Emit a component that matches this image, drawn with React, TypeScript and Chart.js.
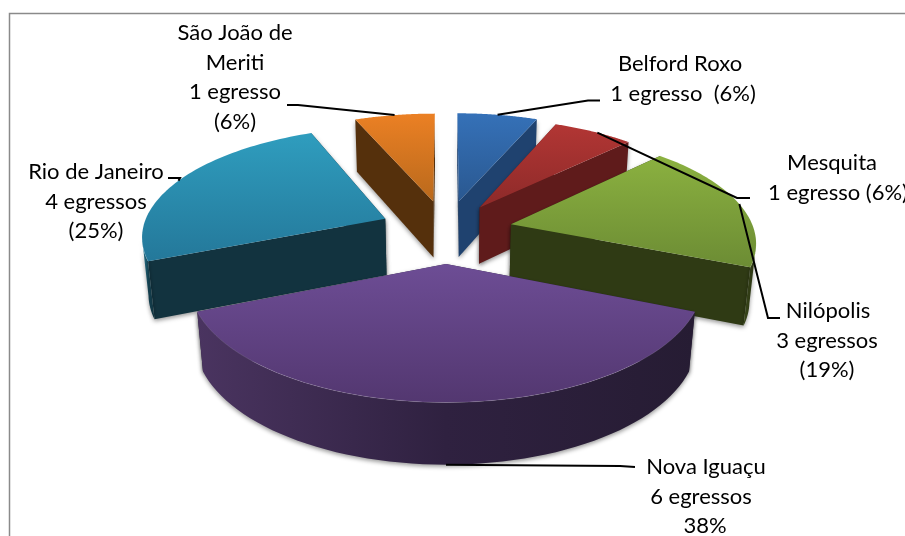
import React, { useEffect, useRef } from "react";
import { Chart, registerables } from "chart.js";

Chart.register(...registerables);

const categories = ["Belford Roxo", "Mesquita", "Nilópolis", "Nova Iguaçu", "Rio de Janeiro", "São João de Meriti"];
const egressos = [1, 1, 3, 6, 4, 1];
const explode = [66, 60, 64, 70, 64, 65];

const labelLines = [
  ["Belford Roxo", "1 egresso  (6%)"],
  ["Mesquita", "1 egresso (6%)"],
  ["Nilópolis", "3 egressos", "(19%)"],
  ["Nova Iguaçu", "6 egressos", "38%"],
  ["Rio de Janeiro", "4 egressos", "(25%)"],
  ["São João de", "Meriti", "1 egresso", "(6%)"],
];

const topLight = ["#3571b8", "#b23634", "#8bb140", "#6d4d95", "#2f9dbe", "#eb8024"];
const topDark = ["#2a5890", "#8d2a29", "#6c8c34", "#533770", "#24789a", "#b9691c"];
const faceColor = ["#1f426f", "#5f1b1b", "#2f3a14", "#2e2044", "#12333f", "#55300c"];
const rimLeft = ["#24497a", "#6a1f1f", "#39471a", "#4a3460", "#2a7f9a", "#5f340e"];
const rimMid = ["#204268", "#5f1b1b", "#313c16", "#2f2140", "#14404f", "#55300c"];
const rimRight = ["#1c3b63", "#541818", "#2a3412", "#261c33", "#12333f", "#4a2608"];

// Label layout: centre x and first-line centre y for each block
const labelCx = [[680, 683], [832, 838], [828, 827, 827], [706, 701, 705], [96, 96, 96], [235, 235, 235, 235]];
const labelY = [64, 163, 311, 467, 172, 33];
const lineGap = 29.5;
// Leader lines: label-side points, then fraction along the slice's arc and level of the anchor
const leaderStart = [[600, 100.5, 588, 100.5], [750, 198, 737, 198], [780, 318, 768, 318], [635, 467, 620, 466], [168, 178, 180, 178], [287, 105, 298, 105]];
const leaderFrac = [0.5, 0.55, 0.5, 0.5, 0.5, 0.5];
const leaderLevel = [0, 0, 0, 1, 0, 0];

// Perspective projection of the pie plane
const CX = 446, CY = 230, A = 243, B = 108, H = 59, D = 7, QY = 0.25, QX = 0.15;
const project = (X: number, Y: number, z: number): [number, number] => {
  const wx = 1 / (1 - (Y + QX * z) / D);
  const wy = 1 / (1 - (Y + QY * z) / D);
  return [CX + X * A * wx, CY + (B * Y - H * z) * wy];
};

const sliceGeom = (el: any) => {
  const { startAngle, endAngle, outerRadius } = el;
  const mid = (startAngle + endAngle) / 2;
  const d = el.options.offset / outerRadius;
  const ox = Math.cos(mid) * d;
  const oy = Math.sin(mid) * d;
  return { startAngle, endAngle, mid, ox, oy };
};

const path = (ctx: CanvasRenderingContext2D, pts: [number, number][]) => {
  ctx.beginPath();
  pts.forEach((p, i) => (i ? ctx.lineTo(p[0], p[1]) : ctx.moveTo(p[0], p[1])));
  ctx.closePath();
};

const pie3d = {
  id: "pie3d",
  beforeDatasetDraw(chart: any) {
    const ctx: CanvasRenderingContext2D = chart.ctx;
    const arcs = chart.getDatasetMeta(0).data;
    const order = arcs.map((_: any, i: number) => i).sort((a: number, b: number) => Math.sin(sliceGeom(arcs[a]).mid) - Math.sin(sliceGeom(arcs[b]).mid));
    for (const i of order) {
      const g = sliceGeom(arcs[i]);
      const N = 60;
      const angs: number[] = [];
      for (let k = 0; k <= N; k++) angs.push(g.startAngle + ((g.endAngle - g.startAngle) * k) / N);
      const rimAt = (a: number, z: number) => project(g.ox + Math.cos(a), g.oy + Math.sin(a), z);
      const tip = (z: number) => project(g.ox, g.oy, z);

      ctx.save();
      ctx.shadowColor = "rgba(0,0,0,0.4)";
      ctx.shadowBlur = 4;
      ctx.shadowOffsetY = 2;
      // radial faces, farther one first
      const ends = [g.startAngle, g.endAngle].sort((a, b) => Math.sin(a) - Math.sin(b));
      for (const a of ends) {
        path(ctx, [tip(0), rimAt(a, 0), rimAt(a, -1), tip(-1)]);
        ctx.fillStyle = faceColor[i];
        ctx.fill();
      }
      // visible part of the outer rim
      const vis = angs.filter((a) => {
        const X = g.ox + Math.cos(a);
        const Y = g.oy + Math.sin(a);
        return Math.cos(a) * -X + Math.sin(a) * (D - Y) > 0;
      });
      if (vis.length > 1) {
        const poly = [...vis.map((a) => rimAt(a, 0)), ...vis.slice().reverse().map((a) => rimAt(a, -1))];
        const xs = poly.map((p) => p[0]);
        const grad = ctx.createLinearGradient(Math.min(...xs), 0, Math.max(...xs), 0);
        grad.addColorStop(0, rimLeft[i]);
        grad.addColorStop(0.5, rimMid[i]);
        grad.addColorStop(1, rimRight[i]);
        path(ctx, poly);
        ctx.fillStyle = grad;
        ctx.fill();
      }
      ctx.restore();

      // top surface
      const top = [tip(0), ...angs.map((a) => rimAt(a, 0))];
      const ys = top.map((p) => p[1]);
      const grad = ctx.createLinearGradient(0, Math.min(...ys), 0, Math.max(...ys));
      grad.addColorStop(0, topLight[i]);
      grad.addColorStop(1, topDark[i]);
      path(ctx, top);
      ctx.fillStyle = grad;
      ctx.fill();
      // soft highlight along the front edge
      if (vis.length > 1) {
        ctx.beginPath();
        vis.forEach((a, k) => {
          const p = rimAt(a, 0);
          if (k) ctx.lineTo(p[0], p[1]);
          else ctx.moveTo(p[0], p[1]);
        });
        ctx.strokeStyle = "rgba(255,255,255,0.12)";
        ctx.lineWidth = 1;
        ctx.stroke();
      }
    }
    return false;
  },
  afterDraw(chart: any) {
    const ctx: CanvasRenderingContext2D = chart.ctx;
    const arcs = chart.getDatasetMeta(0).data;
    ctx.save();
    // frame
    ctx.strokeStyle = "#8a8a8a";
    ctx.lineWidth = 1.5;
    ctx.beginPath();
    ctx.moveTo(9.5, 540);
    ctx.lineTo(9.5, 13.5);
    ctx.lineTo(910, 13.5);
    ctx.stroke();
    // leaders
    ctx.strokeStyle = "#000";
    ctx.lineWidth = 2;
    arcs.forEach((el: any, i: number) => {
      const g = sliceGeom(el);
      const a = g.startAngle + (g.endAngle - g.startAngle) * leaderFrac[i];
      const end = project(g.ox + Math.cos(a), g.oy + Math.sin(a), -leaderLevel[i]);
      const s = leaderStart[i];
      ctx.beginPath();
      ctx.moveTo(s[0], s[1]);
      ctx.lineTo(s[2], s[3]);
      ctx.lineTo(end[0], end[1]);
      ctx.stroke();
    });
    // labels
    ctx.fillStyle = "#000";
    ctx.font = "22px Lato";
    ctx.textAlign = "center";
    ctx.textBaseline = "middle";
    labelLines.forEach((lines, i) => {
      lines.forEach((t, k) => ctx.fillText(t, labelCx[i][k], labelY[i] + k * lineGap));
    });
    ctx.restore();
  },
};

export default function App() {
  const ref = useRef<HTMLCanvasElement>(null);
  useEffect(() => {
    const chart = new Chart(ref.current as HTMLCanvasElement, {
      type: "pie",
      data: {
        labels: categories,
        datasets: [{ data: egressos, backgroundColor: topLight, borderWidth: 0, offset: explode }],
      },
      options: {
        responsive: false,
        animation: false,
        devicePixelRatio: 1,
        events: [],
        layout: { padding: 0 },
        plugins: { legend: { display: false }, tooltip: { enabled: false }, title: { display: false } },
      },
      plugins: [pie3d],
    } as any);
    return () => chart.destroy();
  }, []);
  return (
    <div style={{ position: "absolute", left: 0, top: 0, width: 905, height: 536, overflow: "hidden", background: "#fff" }}>
      <canvas ref={ref} width={905} height={536} style={{ display: "block" }} />
    </div>
  );
}
